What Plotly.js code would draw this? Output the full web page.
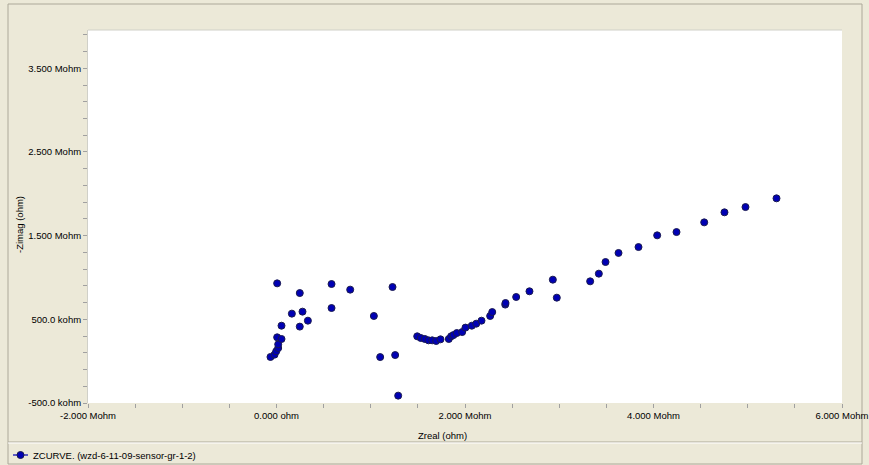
<!DOCTYPE html>
<html>
<head>
<meta charset="utf-8">
<script src="https://cdn.plot.ly/plotly-3.0.1.min.js"></script>
<style>
  html, body { margin: 0; padding: 0; background: #ECE9D8; }
  #chart { width: 869px; height: 465px; }
</style>
</head>
<body>
<div id="chart"></div>
<script>
// Data in Mohm
const seriesName = "ZCURVE. (wzd-6-11-09-sensor-gr-1-2)";
const zreal = [-0.064, -0.021, -0.003, 0.018, 0.018, 0.007, 0.053, 0.053, 0.007, 0.163,
  0.247, 0.276, 0.333, 0.247, 0.584, 0.584, 0.782, 1.033, 1.231, 1.100,
  1.259, 1.291, 1.493, 1.531, 1.574, 1.613, 1.652, 1.694, 1.740, 1.828,
  1.853, 1.878, 1.913, 1.970, 2.005, 2.072, 2.119, 2.175, 2.267, 2.289,
  2.427, 2.430, 2.543, 2.684, 2.932, 2.974, 3.328, 3.420, 3.491, 3.629,
  3.841, 4.039, 4.244, 4.538, 4.753, 4.976, 5.305];
const zimag = [0.050, 0.078, 0.118, 0.157, 0.201, 0.285, 0.265, 0.424, 0.930, 0.568,
  0.413, 0.592, 0.484, 0.814, 0.635, 0.922, 0.855, 0.540, 0.886, 0.049,
  0.073, -0.412, 0.297, 0.277, 0.265, 0.249, 0.249, 0.241, 0.261, 0.265,
  0.297, 0.312, 0.336, 0.348, 0.401, 0.424, 0.448, 0.484, 0.540, 0.587,
  0.676, 0.695, 0.767, 0.835, 0.974, 0.759, 0.954, 1.046, 1.185, 1.293,
  1.364, 1.504, 1.543, 1.659, 1.779, 1.842, 1.946];
const xTickVals = [-2, 0, 2, 4, 6];
const xTickText = ["-2.000 Mohm", "0.000 ohm", "2.000 Mohm", "4.000 Mohm", "6.000 Mohm"];
const yTickVals = [-0.5, 0.5, 1.5, 2.5, 3.5];
const yTickText = ["-500.0 kohm", "500.0 kohm", "1.500 Mohm", "2.500 Mohm", "3.500 Mohm"];

const font = {family: "Liberation Sans, Arial, sans-serif", size: 9.5, color: "#000"};
const markerFill = "#0000B4";
const markerEdge = "#1A1A50";
const markerStyle = {size: 7, color: markerFill, line: {color: markerEdge, width: 1}};

const traces = [
  {x: zreal, y: zimag, type: "scatter", mode: "markers", marker: markerStyle,
   name: seriesName, showlegend: false, cliponaxis: true}
];

const L = 88, R = 842, T = 30, B = 403;
const px = v => (v - L) / (R - L);
const py = v => (B - v) / (B - T);

const legY = 455;

const layout = {
  width: 869, height: 465,
  margin: {l: L, r: 869 - R, t: T, b: 465 - B, pad: 0, autoexpand: false},
  paper_bgcolor: "#ECE9D8",
  plot_bgcolor: "#FFFFFF",
  font: font,
  showlegend: false,
  xaxis: {
    range: [-2, 6], tickvals: xTickVals, ticktext: xTickText, automargin: false,
    ticks: "outside", ticklen: 4, tickcolor: "#A0A0A0", tickwidth: 1,
    minor: {dtick: 0.5, tick0: 0, ticks: "outside", ticklen: 4, tickcolor: "#A0A0A0", showgrid: false},
    showgrid: false, zeroline: false, showline: false,
    tickfont: font, fixedrange: true
  },
  yaxis: {
    range: [-0.5, 3.958], tickvals: yTickVals, ticktext: yTickText, automargin: false,
    ticks: "outside", ticklen: 4, tickcolor: "#A0A0A0", tickwidth: 1,
    minor: {dtick: 0.2, tick0: -0.5, ticks: "outside", ticklen: 4, tickcolor: "#A0A0A0", showgrid: false},
    showgrid: false, zeroline: false, showline: true, linecolor: "#D0D0C8", linewidth: 1,
    tickfont: font, fixedrange: true
  },
  annotations: [
    {text: "Zreal (ohm)", xref: "paper", yref: "paper", x: px(442), y: py(435),
     showarrow: false, font: font, xanchor: "center", yanchor: "middle"},
    {text: "-Zimag (ohm)", xref: "paper", yref: "paper", x: px(19), y: py(225),
     showarrow: false, font: font, textangle: -90, xanchor: "center", yanchor: "middle"},
    {text: seriesName, xref: "paper", yref: "paper", x: px(31), y: py(legY),
     showarrow: false, font: font, xanchor: "left", yanchor: "middle"}
  ],
  shapes: [
    {type: "rect", xref: "paper", yref: "paper", x0: px(8), x1: px(862), y0: py(4), y1: py(464),
     line: {color: "#ACA899", width: 1}, fillcolor: "rgba(0,0,0,0)", layer: "below"},
    {type: "line", xref: "paper", yref: "paper", x0: px(8), x1: px(862), y0: py(442), y1: py(442),
     line: {color: "#ACA899", width: 1}},
    {type: "line", xref: "paper", yref: "paper", x0: px(8), x1: px(862), y0: py(443), y1: py(443),
     line: {color: "#FFFFFF", width: 1}},
    {type: "line", xref: "paper", yref: "paper", x0: 0, x1: 1, y0: 1, y1: 1,
     line: {color: "#D0D0C8", width: 1}},
    // legend symbol
    {type: "line", xref: "paper", yref: "paper", x0: px(13), x1: px(28), y0: py(legY), y1: py(legY),
     line: {color: markerFill, width: 1.2}},
    {type: "circle", xref: "paper", yref: "paper", x0: px(17), x1: px(24), y0: py(legY - 3.5), y1: py(legY + 3.5),
     line: {color: markerEdge, width: 1}, fillcolor: markerFill}
  ]
};

Plotly.newPlot("chart", traces, layout, {displayModeBar: false, staticPlot: true});
</script>
</body>
</html>
